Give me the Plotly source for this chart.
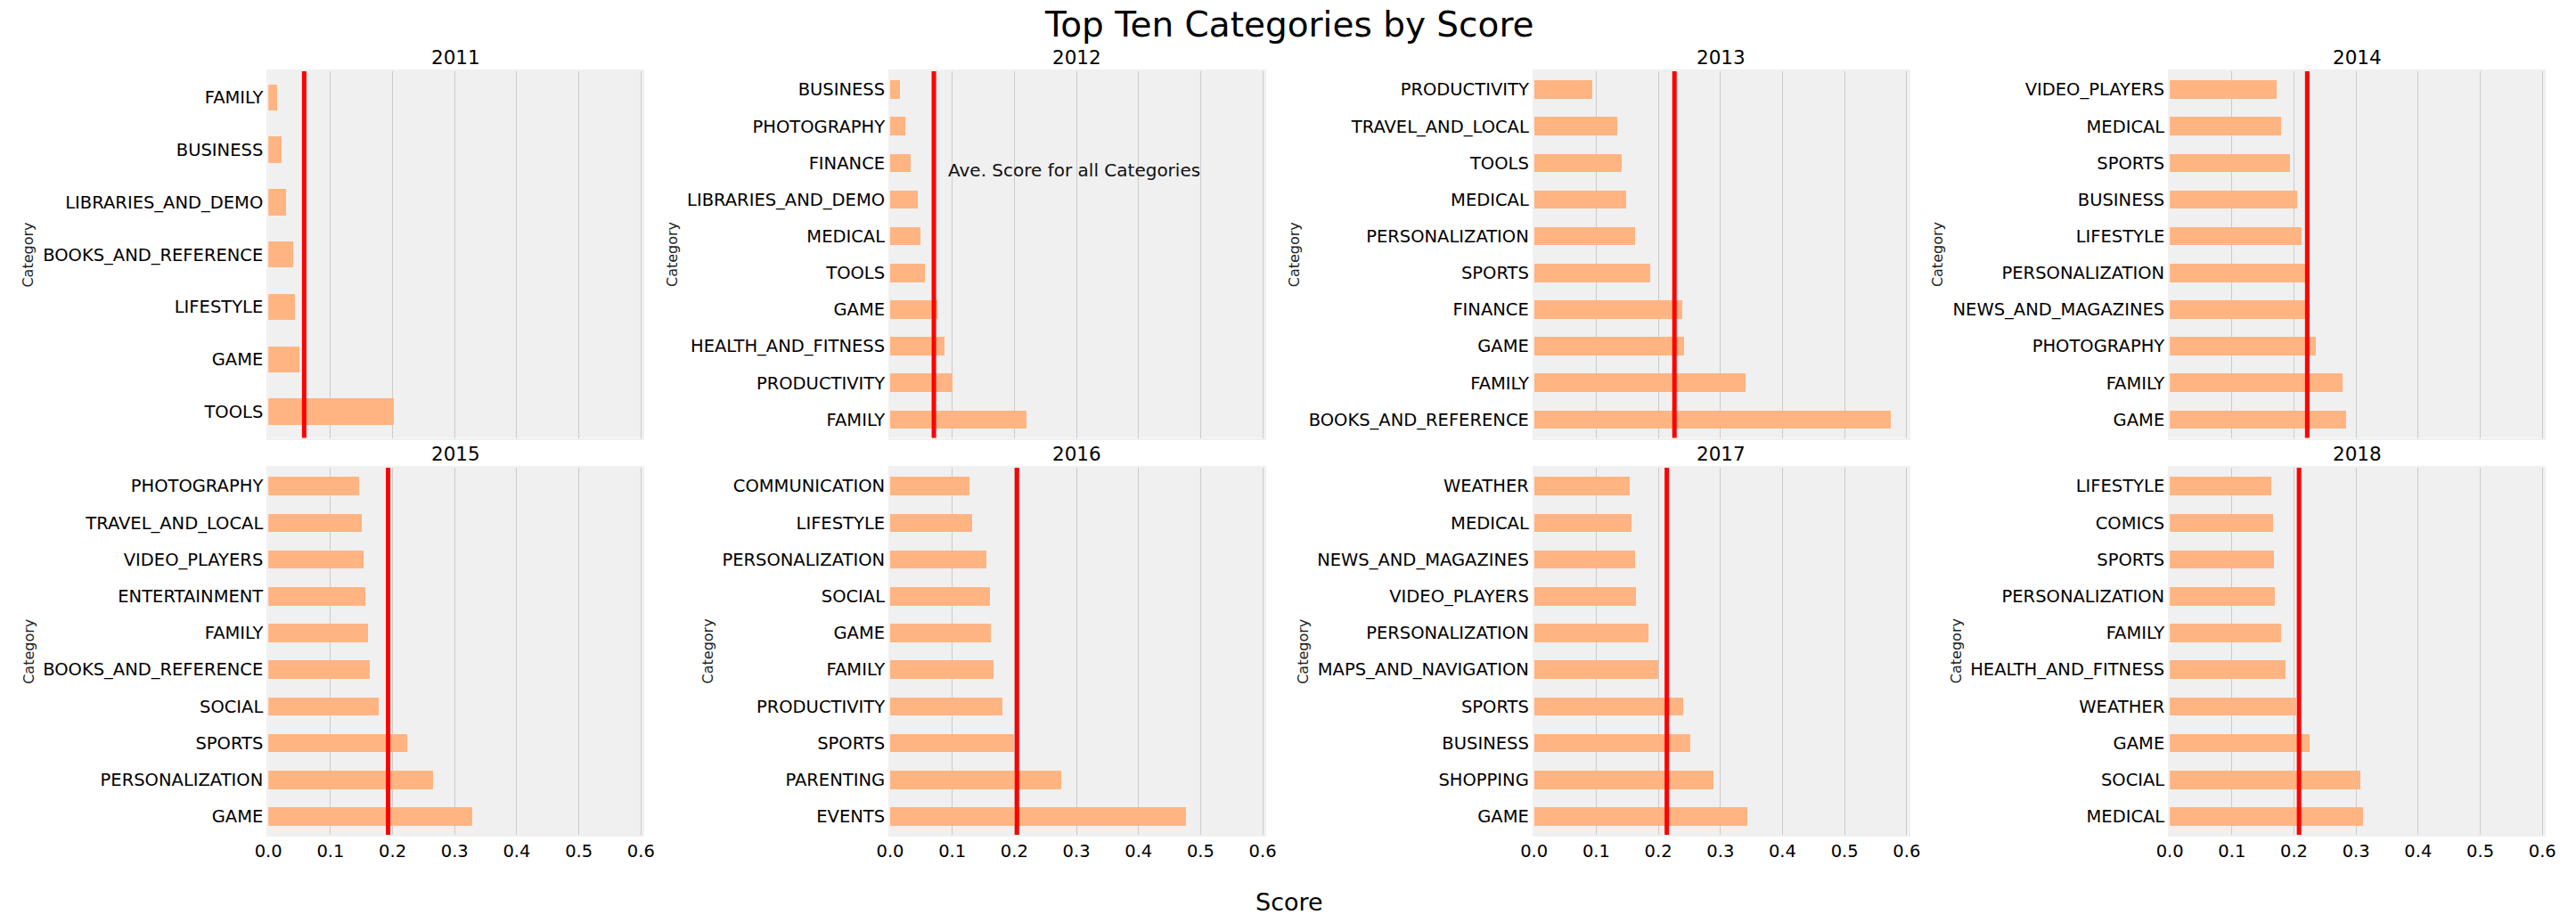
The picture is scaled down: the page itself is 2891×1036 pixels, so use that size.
import plotly.graph_objects as go

# ---------------- data ----------------
years = ["2011", "2012", "2013", "2014", "2015", "2016", "2017", "2018"]

# categories listed top-to-bottom as displayed
cats_2011 = ["FAMILY", "BUSINESS", "LIBRARIES_AND_DEMO", "BOOKS_AND_REFERENCE", "LIFESTYLE", "GAME", "TOOLS"]
vals_2011 = [0.015, 0.022, 0.029, 0.040, 0.043, 0.050, 0.203]

cats_2012 = ["BUSINESS", "PHOTOGRAPHY", "FINANCE", "LIBRARIES_AND_DEMO", "MEDICAL", "TOOLS", "GAME",
             "HEALTH_AND_FITNESS", "PRODUCTIVITY", "FAMILY"]
vals_2012 = [0.016, 0.025, 0.033, 0.044, 0.049, 0.056, 0.076, 0.088, 0.101, 0.219]

cats_2013 = ["PRODUCTIVITY", "TRAVEL_AND_LOCAL", "TOOLS", "MEDICAL", "PERSONALIZATION", "SPORTS", "FINANCE",
             "GAME", "FAMILY", "BOOKS_AND_REFERENCE"]
vals_2013 = [0.093, 0.133, 0.141, 0.148, 0.162, 0.187, 0.238, 0.241, 0.340, 0.574]

cats_2014 = ["VIDEO_PLAYERS", "MEDICAL", "SPORTS", "BUSINESS", "LIFESTYLE", "PERSONALIZATION",
             "NEWS_AND_MAGAZINES", "PHOTOGRAPHY", "FAMILY", "GAME"]
vals_2014 = [0.172, 0.179, 0.194, 0.205, 0.213, 0.219, 0.226, 0.236, 0.278, 0.284]

cats_2015 = ["PHOTOGRAPHY", "TRAVEL_AND_LOCAL", "VIDEO_PLAYERS", "ENTERTAINMENT", "FAMILY",
             "BOOKS_AND_REFERENCE", "SOCIAL", "SPORTS", "PERSONALIZATION", "GAME"]
vals_2015 = [0.147, 0.150, 0.154, 0.157, 0.160, 0.163, 0.178, 0.224, 0.266, 0.328]

cats_2016 = ["COMMUNICATION", "LIFESTYLE", "PERSONALIZATION", "SOCIAL", "GAME", "FAMILY", "PRODUCTIVITY",
             "SPORTS", "PARENTING", "EVENTS"]
vals_2016 = [0.127, 0.132, 0.155, 0.160, 0.162, 0.166, 0.181, 0.200, 0.276, 0.477]

cats_2017 = ["WEATHER", "MEDICAL", "NEWS_AND_MAGAZINES", "VIDEO_PLAYERS", "PERSONALIZATION",
             "MAPS_AND_NAVIGATION", "SPORTS", "BUSINESS", "SHOPPING", "GAME"]
vals_2017 = [0.153, 0.157, 0.162, 0.163, 0.183, 0.200, 0.239, 0.251, 0.288, 0.343]

cats_2018 = ["LIFESTYLE", "COMICS", "SPORTS", "PERSONALIZATION", "FAMILY", "HEALTH_AND_FITNESS", "WEATHER",
             "GAME", "SOCIAL", "MEDICAL"]
vals_2018 = [0.163, 0.166, 0.168, 0.170, 0.179, 0.187, 0.204, 0.225, 0.307, 0.311]

avg_scores = [0.0576, 0.0704, 0.2260, 0.2213, 0.1928, 0.2042, 0.2137, 0.2081]

x_ticks = [0.0, 0.1, 0.2, 0.3, 0.4, 0.5, 0.6]

title_text = "Top Ten Categories by Score"
xlabel_text = "Score"
ylabel_text = "Category"
avg_label = "Ave. Score for all Categories"

all_cats = [cats_2011, cats_2012, cats_2013, cats_2014, cats_2015, cats_2016, cats_2017, cats_2018]
all_vals = [vals_2011, vals_2012, vals_2013, vals_2014, vals_2015, vals_2016, vals_2017, vals_2018]

# ---------------- layout geometry (pixels) ----------------
W, H = 2891, 1036
col_px = [(288.2, 712.6), (993.3, 1417.7), (1723.6, 2148.0), (2444.5, 2868.9)]
row_px = [(80.0, 491.5), (525.0, 937.0)]
ylabel_x = [16, 747, 1451.6, 2181, 16, 786.6, 1461, 2202]
subtitle_y = [64.5, 509.0]

FONT = "DejaVu Sans"
BAR_COLOR = "#FFB482"
BG = "#f0f0f0"
GRID = "#cbcbcb"
TICK_SIZE = 19.5

xmax = max(max(v) for v in all_vals) * 1.05

fig = go.Figure()
layout = dict(
    width=W, height=H, autosize=False,
    margin=dict(l=0, r=0, t=0, b=0),
    paper_bgcolor="white", plot_bgcolor=BG,
    showlegend=False,
    font=dict(family=FONT, color="black"),
    bargap=0,
)
shapes = []
annotations = []

for i, (cats, vals) in enumerate(zip(all_cats, all_vals)):
    r, c = divmod(i, 4)
    n = i + 1
    xa = "x" if n == 1 else f"x{n}"
    ya = "y" if n == 1 else f"y{n}"
    xkey = "xaxis" if n == 1 else f"xaxis{n}"
    ykey = "yaxis" if n == 1 else f"yaxis{n}"
    x0, x1 = col_px[c]
    top, bot = row_px[r]

    fig.add_trace(go.Bar(
        x=vals, y=cats, orientation="h", width=0.5,
        marker=dict(color=BAR_COLOR, line=dict(width=0)),
        xaxis=xa, yaxis=ya, hoverinfo="x+y",
    ))

    layout[xkey] = dict(
        domain=[x0 / W, x1 / W], anchor=ya,
        range=[0, xmax], tickvals=x_ticks, tickformat=".1f",
        showticklabels=(r == 1), ticks="",
        tickfont=dict(size=TICK_SIZE, family=FONT, color="black"),
        showgrid=True, gridcolor=GRID, gridwidth=1.3,
        zeroline=False, showline=True, linecolor=BG, linewidth=2, mirror=True,
    )
    layout[ykey] = dict(
        domain=[1 - bot / H, 1 - top / H], anchor=xa,
        type="category", categoryorder="array", categoryarray=cats,
        range=[len(cats) - 0.5, -0.5],
        ticks="", tickfont=dict(size=TICK_SIZE, family=FONT, color="black"),
        showgrid=False, zeroline=False,
        showline=True, linecolor=BG, linewidth=2, mirror=True,
        ticklabelstandoff=0,
    )

    # average line
    shapes.append(dict(
        type="line", xref=xa, yref=f"{ya} domain",
        x0=avg_scores[i], x1=avg_scores[i], y0=0, y1=1,
        line=dict(color="#ff0000", width=5), layer="above",
    ))

    # subplot title
    annotations.append(dict(
        text=years[i], xref="paper", yref="paper",
        x=((x0 + x1) / 2) / W, y=1 - subtitle_y[r] / H,
        xanchor="center", yanchor="middle", showarrow=False,
        font=dict(size=21.5, family=FONT, color="black"),
    ))
    # y-axis label
    annotations.append(dict(
        text=ylabel_text, xref="paper", yref="paper",
        x=ylabel_x[i] / W, y=1 - ((top + bot) / 2) / H,
        xanchor="center", yanchor="middle", textangle=-90, showarrow=False,
        font=dict(size=16, family=FONT, color="#222222"),
    ))

# average label text in the 2012 panel
annotations.append(dict(
    text=avg_label, xref="x2", yref="paper",
    x=avg_scores[1] + 0.02, y=1 - 191.0 / H,
    xanchor="left", yanchor="middle", showarrow=False,
    font=dict(size=20, family=FONT, color="#111111"),
))

# figure title and common x label
annotations.append(dict(
    text=title_text, xref="paper", yref="paper", x=0.5, y=1 - 27.0 / H,
    xanchor="center", yanchor="middle", showarrow=False,
    font=dict(size=39, family=FONT, color="black"),
))
annotations.append(dict(
    text=xlabel_text, xref="paper", yref="paper", x=0.5, y=1 - 1012.0 / H,
    xanchor="center", yanchor="middle", showarrow=False,
    font=dict(size=27, family=FONT, color="black"),
))

layout["shapes"] = shapes
layout["annotations"] = annotations
fig.update_layout(**layout)

fig.write_html("out.html")
